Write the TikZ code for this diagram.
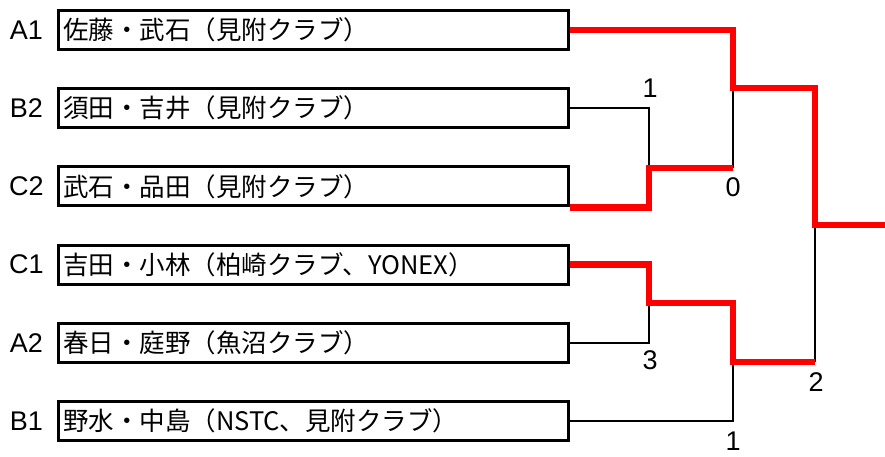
\documentclass[tikz,border=0pt]{standalone}
\usepackage{fontspec}
\setmainfont{Liberation Sans}
\newfontfamily\cjk{Noto Sans CJK JP}
\begin{document}
\begin{tikzpicture}[x=1pt,y=-1pt,
  team/.style={draw,line width=3pt,anchor=west,minimum height=39pt,
    text width=500pt,inner xsep=5pt,inner ysep=0pt,align=left,
    font=\cjk\fontsize{25.5}{30}\selectfont},
  seed/.style={font=\fontsize{27}{30}\selectfont,inner sep=0pt},
  score/.style={font=\fontsize{27}{30}\selectfont,inner sep=0pt},
  lose/.style={line width=2.4pt,black},
  win/.style={line width=6.5pt,red,line join=miter}]
\useasboundingbox (0,0) rectangle (885,457);
% teams
\node[team] (t1) at (56.5,30)    {佐藤・武石（見附クラブ）};
\node[team] (t2) at (56.5,108.2) {須田・吉井（見附クラブ）};
\node[team] (t3) at (56.5,186.4) {武石・品田（見附クラブ）};
\node[team] (t4) at (56.5,264.6) {吉田・小林（柏崎クラブ、YONEX）};
\node[team] (t5) at (56.5,342.8) {春日・庭野（魚沼クラブ）};
\node[team] (t6) at (56.5,421)   {野水・中島（NSTC、見附クラブ）};
% seeds
\node[seed] (s1) at (26.5,30)    {A1};
\node[seed] (s2) at (26.5,108.2) {B2};
\node[seed] (s3) at (26.5,186.4) {C2};
\node[seed] (s4) at (26.5,264.6) {C1};
\node[seed] (s5) at (26.5,342.8) {A2};
\node[seed] (s6) at (26.5,421)   {B1};
% junctions
\coordinate (m1w) at (649,168);
\coordinate (m2w) at (733,168);
\coordinate (m2j) at (733,88);
\coordinate (fj)  at (815,88);
\coordinate (fm)  at (815,225);
\coordinate (out) at (885,225);
\coordinate (m3w) at (649,303);
\coordinate (m4w) at (733,303);
\coordinate (m4j) at (733,362);
\coordinate (fb)  at (815,362);
% losing lines
\draw[lose] (t2.east) -| (m1w);
\draw[lose] (m2j) -- (m2w);
\draw[lose] (t5.east) -| (m3w);
\draw[lose] (t6.east) -| (m4j);
\draw[lose] (fm) -- (fb);
% winning lines
\draw[win] (t1.east) -| (m2j) -- (fj) |- (out);
\draw[win] (t3.south east) -| (m1w) -- (m2w);
\draw[win] (t4.east) -| (m3w) -- (m4w) -- (m4j) -- (fb);
% scores
\node[score] (c1) at (650,88)  {1};
\node[score] (c2) at (733,187) {0};
\node[score] (c3) at (650,360) {3};
\node[score] (c4) at (733,441) {1};
\node[score] (c5) at (816,382) {2};
\end{tikzpicture}
\end{document}
